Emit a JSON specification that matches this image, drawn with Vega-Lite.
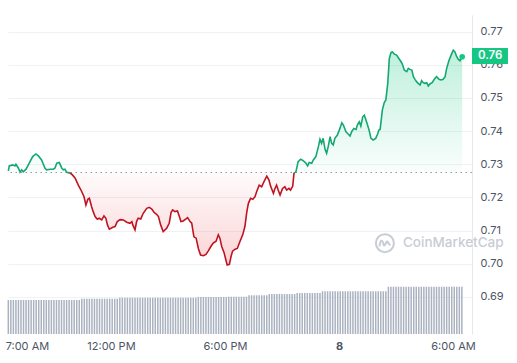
{
  "$schema": "https://vega.github.io/schema/vega-lite/v6.json",
  "width": 464,
  "height": 319,
  "autosize": {"type": "none"},
  "padding": {"left": 8, "top": 15, "right": 45, "bottom": 29},
  "background": "white",
  "config": {
    "view": {"stroke": null},
    "font": "Inter",
    "axis": {"labelFont": "Inter", "labelFontSize": 11, "labelColor": "#4d5565"}
  },
  "datasets": {
    "price": [
      {"t":"2024-03-07T06:36","p":0.7280},{"t":"2024-03-07T06:39","p":0.7295},{"t":"2024-03-07T06:50","p":0.7298},{"t":"2024-03-07T06:57","p":0.7295},
      {"t":"2024-03-07T07:00","p":0.7300},{"t":"2024-03-07T07:08","p":0.7288},{"t":"2024-03-07T07:13","p":0.7276},{"t":"2024-03-07T07:18","p":0.7283},
      {"t":"2024-03-07T07:23","p":0.7277},{"t":"2024-03-07T07:32","p":0.7285},{"t":"2024-03-07T07:42","p":0.7303},{"t":"2024-03-07T07:53","p":0.7323},
      {"t":"2024-03-07T08:03","p":0.7331},{"t":"2024-03-07T08:11","p":0.7325},{"t":"2024-03-07T08:21","p":0.7313},{"t":"2024-03-07T08:32","p":0.7288},
      {"t":"2024-03-07T08:37","p":0.7283},{"t":"2024-03-07T08:48","p":0.7285},{"t":"2024-03-07T08:58","p":0.7285},{"t":"2024-03-07T09:03","p":0.7288},
      {"t":"2024-03-07T09:09","p":0.7303},{"t":"2024-03-07T09:17","p":0.7305},{"t":"2024-03-07T09:25","p":0.7288},{"t":"2024-03-07T09:30","p":0.7283},
      {"t":"2024-03-07T09:35","p":0.7285},{"t":"2024-03-07T09:40","p":0.7276},{"t":"2024-03-07T09:51","p":0.7274},{"t":"2024-03-07T09:59","p":0.7267},
      {"t":"2024-03-07T10:07","p":0.7258},{"t":"2024-03-07T10:17","p":0.7237},{"t":"2024-03-07T10:28","p":0.7217},{"t":"2024-03-07T10:35","p":0.7202},
      {"t":"2024-03-07T10:41","p":0.7177},{"t":"2024-03-07T10:47","p":0.7194},{"t":"2024-03-07T10:52","p":0.7197},{"t":"2024-03-07T10:59","p":0.7172},
      {"t":"2024-03-07T11:04","p":0.7157},{"t":"2024-03-07T11:10","p":0.7142},{"t":"2024-03-07T11:17","p":0.7134},{"t":"2024-03-07T11:23","p":0.7137},
      {"t":"2024-03-07T11:31","p":0.7132},{"t":"2024-03-07T11:38","p":0.7144},{"t":"2024-03-07T11:44","p":0.7137},{"t":"2024-03-07T11:49","p":0.7117},
      {"t":"2024-03-07T11:55","p":0.7104},{"t":"2024-03-07T12:06","p":0.7110},{"t":"2024-03-07T12:13","p":0.7112},{"t":"2024-03-07T12:20","p":0.7127},
      {"t":"2024-03-07T12:29","p":0.7133},{"t":"2024-03-07T12:39","p":0.7132},{"t":"2024-03-07T12:50","p":0.7125},{"t":"2024-03-07T13:00","p":0.7122},
      {"t":"2024-03-07T13:06","p":0.7127},{"t":"2024-03-07T13:09","p":0.7117},{"t":"2024-03-07T13:16","p":0.7102},{"t":"2024-03-07T13:21","p":0.7127},
      {"t":"2024-03-07T13:26","p":0.7137},{"t":"2024-03-07T13:34","p":0.7135},{"t":"2024-03-07T13:42","p":0.7152},{"t":"2024-03-07T13:53","p":0.7167},
      {"t":"2024-03-07T14:01","p":0.7170},{"t":"2024-03-07T14:09","p":0.7165},{"t":"2024-03-07T14:16","p":0.7155},{"t":"2024-03-07T14:24","p":0.7149},
      {"t":"2024-03-07T14:30","p":0.7142},{"t":"2024-03-07T14:37","p":0.7117},{"t":"2024-03-07T14:45","p":0.7097},{"t":"2024-03-07T14:56","p":0.7107},
      {"t":"2024-03-07T15:04","p":0.7122},{"t":"2024-03-07T15:10","p":0.7155},{"t":"2024-03-07T15:15","p":0.7162},{"t":"2024-03-07T15:22","p":0.7157},
      {"t":"2024-03-07T15:30","p":0.7159},{"t":"2024-03-07T15:36","p":0.7142},{"t":"2024-03-07T15:41","p":0.7127},{"t":"2024-03-07T15:48","p":0.7129},
      {"t":"2024-03-07T15:57","p":0.7135},{"t":"2024-03-07T16:02","p":0.7139},{"t":"2024-03-07T16:10","p":0.7127},{"t":"2024-03-07T16:15","p":0.7122},
      {"t":"2024-03-07T16:22","p":0.7081},{"t":"2024-03-07T16:29","p":0.7077},{"t":"2024-03-07T16:36","p":0.7046},{"t":"2024-03-07T16:43","p":0.7026},
      {"t":"2024-03-07T16:52","p":0.7024},{"t":"2024-03-07T17:00","p":0.7028},{"t":"2024-03-07T17:07","p":0.7038},{"t":"2024-03-07T17:15","p":0.7051},
      {"t":"2024-03-07T17:23","p":0.7062},{"t":"2024-03-07T17:32","p":0.7068},{"t":"2024-03-07T17:39","p":0.7087},{"t":"2024-03-07T17:44","p":0.7077},
      {"t":"2024-03-07T17:50","p":0.7051},{"t":"2024-03-07T17:57","p":0.7034},{"t":"2024-03-07T18:03","p":0.7011},{"t":"2024-03-07T18:07","p":0.6996},
      {"t":"2024-03-07T18:14","p":0.6998},{"t":"2024-03-07T18:19","p":0.7021},{"t":"2024-03-07T18:24","p":0.7038},{"t":"2024-03-07T18:32","p":0.7044},
      {"t":"2024-03-07T18:39","p":0.7046},{"t":"2024-03-07T18:47","p":0.7066},{"t":"2024-03-07T18:56","p":0.7087},{"t":"2024-03-07T19:03","p":0.7112},
      {"t":"2024-03-07T19:09","p":0.7156},{"t":"2024-03-07T19:14","p":0.7182},{"t":"2024-03-07T19:21","p":0.7197},{"t":"2024-03-07T19:28","p":0.7194},
      {"t":"2024-03-07T19:35","p":0.7202},{"t":"2024-03-07T19:40","p":0.7217},{"t":"2024-03-07T19:48","p":0.7237},{"t":"2024-03-07T19:56","p":0.7232},
      {"t":"2024-03-07T20:03","p":0.7247},{"t":"2024-03-07T20:12","p":0.7264},{"t":"2024-03-07T20:19","p":0.7252},{"t":"2024-03-07T20:24","p":0.7234},
      {"t":"2024-03-07T20:33","p":0.7212},{"t":"2024-03-07T20:38","p":0.7227},{"t":"2024-03-07T20:43","p":0.7237},{"t":"2024-03-07T20:48","p":0.7222},
      {"t":"2024-03-07T20:54","p":0.7207},{"t":"2024-03-07T21:02","p":0.7227},{"t":"2024-03-07T21:09","p":0.7232},{"t":"2024-03-07T21:15","p":0.7222},
      {"t":"2024-03-07T21:22","p":0.7227},{"t":"2024-03-07T21:27","p":0.7222},{"t":"2024-03-07T21:34","p":0.7234},{"t":"2024-03-07T21:38","p":0.7273},
      {"t":"2024-03-07T21:44","p":0.7277},{"t":"2024-03-07T21:51","p":0.7308},{"t":"2024-03-07T21:59","p":0.7315},{"t":"2024-03-07T22:07","p":0.7311},
      {"t":"2024-03-07T22:16","p":0.7303},{"t":"2024-03-07T22:21","p":0.7295},{"t":"2024-03-07T22:26","p":0.7305},{"t":"2024-03-07T22:34","p":0.7303},
      {"t":"2024-03-07T22:39","p":0.7313},{"t":"2024-03-07T22:47","p":0.7323},{"t":"2024-03-07T22:55","p":0.7353},{"t":"2024-03-07T23:00","p":0.7375},
      {"t":"2024-03-07T23:05","p":0.7363},{"t":"2024-03-07T23:10","p":0.7378},{"t":"2024-03-07T23:16","p":0.7345},{"t":"2024-03-07T23:21","p":0.7333},
      {"t":"2024-03-07T23:26","p":0.7353},{"t":"2024-03-07T23:32","p":0.7383},{"t":"2024-03-07T23:37","p":0.7363},{"t":"2024-03-07T23:42","p":0.7358},
      {"t":"2024-03-07T23:47","p":0.7378},{"t":"2024-03-07T23:55","p":0.7388},{"t":"2024-03-08T00:03","p":0.7408},{"t":"2024-03-08T00:09","p":0.7425},
      {"t":"2024-03-08T00:14","p":0.7418},{"t":"2024-03-08T00:22","p":0.7398},{"t":"2024-03-08T00:29","p":0.7391},{"t":"2024-03-08T00:35","p":0.7385},
      {"t":"2024-03-08T00:40","p":0.7398},{"t":"2024-03-08T00:47","p":0.7408},{"t":"2024-03-08T00:54","p":0.7405},{"t":"2024-03-08T00:58","p":0.7418},
      {"t":"2024-03-08T01:04","p":0.7428},{"t":"2024-03-08T01:09","p":0.7415},{"t":"2024-03-08T01:15","p":0.7443},{"t":"2024-03-08T01:20","p":0.7448},
      {"t":"2024-03-08T01:27","p":0.7428},{"t":"2024-03-08T01:35","p":0.7403},{"t":"2024-03-08T01:41","p":0.7378},{"t":"2024-03-08T01:48","p":0.7373},
      {"t":"2024-03-08T01:56","p":0.7378},{"t":"2024-03-08T02:02","p":0.7391},{"t":"2024-03-08T02:06","p":0.7403},{"t":"2024-03-08T02:10","p":0.7405},
      {"t":"2024-03-08T02:17","p":0.7464},{"t":"2024-03-08T02:23","p":0.7486},{"t":"2024-03-08T02:28","p":0.7494},{"t":"2024-03-08T02:34","p":0.7544},
      {"t":"2024-03-08T02:39","p":0.7619},{"t":"2024-03-08T02:44","p":0.7636},{"t":"2024-03-08T02:48","p":0.7639},{"t":"2024-03-08T02:55","p":0.7632},
      {"t":"2024-03-08T03:02","p":0.7629},{"t":"2024-03-08T03:09","p":0.7619},{"t":"2024-03-08T03:16","p":0.7609},{"t":"2024-03-08T03:20","p":0.7602},
      {"t":"2024-03-08T03:26","p":0.7584},{"t":"2024-03-08T03:34","p":0.7579},{"t":"2024-03-08T03:39","p":0.7589},{"t":"2024-03-08T03:44","p":0.7586},
      {"t":"2024-03-08T03:50","p":0.7584},{"t":"2024-03-08T03:55","p":0.7564},{"t":"2024-03-08T04:00","p":0.7556},{"t":"2024-03-08T04:05","p":0.7549},
      {"t":"2024-03-08T04:10","p":0.7544},{"t":"2024-03-08T04:16","p":0.7539},{"t":"2024-03-08T04:21","p":0.7552},{"t":"2024-03-08T04:26","p":0.7546},
      {"t":"2024-03-08T04:31","p":0.7544},{"t":"2024-03-08T04:37","p":0.7546},{"t":"2024-03-08T04:42","p":0.7536},{"t":"2024-03-08T04:47","p":0.7542},
      {"t":"2024-03-08T04:54","p":0.7546},{"t":"2024-03-08T05:01","p":0.7556},{"t":"2024-03-08T05:08","p":0.7564},{"t":"2024-03-08T05:16","p":0.7556},
      {"t":"2024-03-08T05:22","p":0.7554},{"t":"2024-03-08T05:29","p":0.7556},{"t":"2024-03-08T05:35","p":0.7564},{"t":"2024-03-08T05:40","p":0.7589},
      {"t":"2024-03-08T05:47","p":0.7612},{"t":"2024-03-08T05:54","p":0.7629},{"t":"2024-03-08T06:01","p":0.7644},{"t":"2024-03-08T06:06","p":0.7639},
      {"t":"2024-03-08T06:11","p":0.7626},{"t":"2024-03-08T06:17","p":0.7616},{"t":"2024-03-08T06:22","p":0.7612},{"t":"2024-03-08T06:29","p":0.7624}
    ],
    "vol": [
      {"t":"2024-03-07T06:36","v":34},{"t":"2024-03-07T06:44","v":34},{"t":"2024-03-07T06:52","v":34},
      {"t":"2024-03-07T07:00","v":34},{"t":"2024-03-07T07:08","v":34},{"t":"2024-03-07T07:16","v":34},{"t":"2024-03-07T07:24","v":34},{"t":"2024-03-07T07:32","v":34},{"t":"2024-03-07T07:40","v":34},{"t":"2024-03-07T07:48","v":34},{"t":"2024-03-07T07:56","v":34},
      {"t":"2024-03-07T08:04","v":34},{"t":"2024-03-07T08:12","v":34},{"t":"2024-03-07T08:20","v":34},{"t":"2024-03-07T08:28","v":34},{"t":"2024-03-07T08:36","v":34},{"t":"2024-03-07T08:44","v":34},{"t":"2024-03-07T08:52","v":34},
      {"t":"2024-03-07T09:00","v":34},{"t":"2024-03-07T09:08","v":34},{"t":"2024-03-07T09:16","v":34},{"t":"2024-03-07T09:24","v":34},{"t":"2024-03-07T09:32","v":34},{"t":"2024-03-07T09:40","v":34},{"t":"2024-03-07T09:48","v":34},{"t":"2024-03-07T09:56","v":34},
      {"t":"2024-03-07T10:04","v":34},{"t":"2024-03-07T10:12","v":34},{"t":"2024-03-07T10:20","v":34},{"t":"2024-03-07T10:28","v":35.3},{"t":"2024-03-07T10:36","v":35.3},{"t":"2024-03-07T10:44","v":35.3},{"t":"2024-03-07T10:52","v":35.3},
      {"t":"2024-03-07T11:00","v":35.3},{"t":"2024-03-07T11:08","v":35.3},{"t":"2024-03-07T11:16","v":35.3},{"t":"2024-03-07T11:24","v":35.3},{"t":"2024-03-07T11:32","v":35.3},{"t":"2024-03-07T11:40","v":35.3},{"t":"2024-03-07T11:48","v":35.3},{"t":"2024-03-07T11:56","v":35.3},
      {"t":"2024-03-07T12:04","v":35.3},{"t":"2024-03-07T12:12","v":35.3},{"t":"2024-03-07T12:20","v":35.3},{"t":"2024-03-07T12:28","v":36.3},{"t":"2024-03-07T12:36","v":36.3},{"t":"2024-03-07T12:44","v":36.3},{"t":"2024-03-07T12:52","v":36.3},
      {"t":"2024-03-07T13:00","v":36.3},{"t":"2024-03-07T13:08","v":36.3},{"t":"2024-03-07T13:16","v":36.3},{"t":"2024-03-07T13:24","v":36.3},{"t":"2024-03-07T13:32","v":36.3},{"t":"2024-03-07T13:40","v":36.3},{"t":"2024-03-07T13:48","v":36.3},{"t":"2024-03-07T13:56","v":36.3},
      {"t":"2024-03-07T14:04","v":36.3},{"t":"2024-03-07T14:12","v":36.3},{"t":"2024-03-07T14:20","v":36.3},{"t":"2024-03-07T14:28","v":36.3},{"t":"2024-03-07T14:36","v":36.3},{"t":"2024-03-07T14:44","v":36.3},{"t":"2024-03-07T14:52","v":36.3},
      {"t":"2024-03-07T15:00","v":36.3},{"t":"2024-03-07T15:08","v":36.3},{"t":"2024-03-07T15:16","v":36.3},{"t":"2024-03-07T15:24","v":36.3},{"t":"2024-03-07T15:32","v":36.3},{"t":"2024-03-07T15:40","v":36.3},{"t":"2024-03-07T15:48","v":36.3},{"t":"2024-03-07T15:56","v":36.3},
      {"t":"2024-03-07T16:04","v":36.3},{"t":"2024-03-07T16:12","v":36.3},{"t":"2024-03-07T16:20","v":36.3},{"t":"2024-03-07T16:28","v":36.3},{"t":"2024-03-07T16:36","v":37},{"t":"2024-03-07T16:44","v":37},{"t":"2024-03-07T16:52","v":37},
      {"t":"2024-03-07T17:00","v":37},{"t":"2024-03-07T17:08","v":37},{"t":"2024-03-07T17:16","v":37},{"t":"2024-03-07T17:24","v":37},{"t":"2024-03-07T17:32","v":37},{"t":"2024-03-07T17:40","v":37},{"t":"2024-03-07T17:48","v":37},{"t":"2024-03-07T17:56","v":37},
      {"t":"2024-03-07T18:04","v":37},{"t":"2024-03-07T18:12","v":37.3},{"t":"2024-03-07T18:20","v":37.3},{"t":"2024-03-07T18:28","v":37.3},{"t":"2024-03-07T18:36","v":37.3},{"t":"2024-03-07T18:44","v":37.3},{"t":"2024-03-07T18:52","v":37.3},
      {"t":"2024-03-07T19:00","v":37.3},{"t":"2024-03-07T19:08","v":37.3},{"t":"2024-03-07T19:16","v":38.7},{"t":"2024-03-07T19:24","v":38.7},{"t":"2024-03-07T19:32","v":38.7},{"t":"2024-03-07T19:40","v":38.7},{"t":"2024-03-07T19:48","v":38.7},{"t":"2024-03-07T19:56","v":38.7},
      {"t":"2024-03-07T20:04","v":38.7},{"t":"2024-03-07T20:12","v":38.7},{"t":"2024-03-07T20:20","v":40},{"t":"2024-03-07T20:28","v":40},{"t":"2024-03-07T20:36","v":40},{"t":"2024-03-07T20:44","v":40},{"t":"2024-03-07T20:52","v":40},
      {"t":"2024-03-07T21:00","v":40},{"t":"2024-03-07T21:08","v":40},{"t":"2024-03-07T21:16","v":40},{"t":"2024-03-07T21:24","v":40},{"t":"2024-03-07T21:32","v":40},{"t":"2024-03-07T21:40","v":40},{"t":"2024-03-07T21:48","v":41},{"t":"2024-03-07T21:56","v":41},
      {"t":"2024-03-07T22:04","v":41},{"t":"2024-03-07T22:12","v":41},{"t":"2024-03-07T22:20","v":41},{"t":"2024-03-07T22:28","v":41},{"t":"2024-03-07T22:36","v":41},{"t":"2024-03-07T22:44","v":41},{"t":"2024-03-07T22:52","v":41},
      {"t":"2024-03-07T23:00","v":41},{"t":"2024-03-07T23:08","v":42.7},{"t":"2024-03-07T23:16","v":42.7},{"t":"2024-03-07T23:24","v":42.7},{"t":"2024-03-07T23:32","v":42.7},{"t":"2024-03-07T23:40","v":42.7},{"t":"2024-03-07T23:48","v":42.7},{"t":"2024-03-07T23:56","v":42.7},
      {"t":"2024-03-08T00:04","v":42.7},{"t":"2024-03-08T00:12","v":42.7},{"t":"2024-03-08T00:20","v":42.7},{"t":"2024-03-08T00:28","v":42.7},{"t":"2024-03-08T00:36","v":42.7},{"t":"2024-03-08T00:44","v":42.7},{"t":"2024-03-08T00:52","v":42.7},
      {"t":"2024-03-08T01:00","v":42.7},{"t":"2024-03-08T01:08","v":42.7},{"t":"2024-03-08T01:16","v":42.7},{"t":"2024-03-08T01:24","v":42.7},{"t":"2024-03-08T01:32","v":42.7},{"t":"2024-03-08T01:40","v":42.7},{"t":"2024-03-08T01:48","v":42.7},{"t":"2024-03-08T01:56","v":42.7},
      {"t":"2024-03-08T02:04","v":42.7},{"t":"2024-03-08T02:12","v":42.7},{"t":"2024-03-08T02:20","v":42.7},{"t":"2024-03-08T02:28","v":42.7},{"t":"2024-03-08T02:36","v":47.3},{"t":"2024-03-08T02:44","v":47.3},{"t":"2024-03-08T02:52","v":47.3},
      {"t":"2024-03-08T03:00","v":47.3},{"t":"2024-03-08T03:08","v":47.3},{"t":"2024-03-08T03:16","v":47.3},{"t":"2024-03-08T03:24","v":47.3},{"t":"2024-03-08T03:32","v":47.3},{"t":"2024-03-08T03:40","v":47.3},{"t":"2024-03-08T03:48","v":47.3},{"t":"2024-03-08T03:56","v":47.3},
      {"t":"2024-03-08T04:04","v":47.3},{"t":"2024-03-08T04:12","v":47.3},{"t":"2024-03-08T04:20","v":47.3},{"t":"2024-03-08T04:28","v":47.3},{"t":"2024-03-08T04:36","v":47.3},{"t":"2024-03-08T04:44","v":47.3},{"t":"2024-03-08T04:52","v":47.3},
      {"t":"2024-03-08T05:00","v":47.3},{"t":"2024-03-08T05:08","v":47.3},{"t":"2024-03-08T05:16","v":47.3},{"t":"2024-03-08T05:24","v":47.3},{"t":"2024-03-08T05:32","v":47.3},{"t":"2024-03-08T05:40","v":47.3},{"t":"2024-03-08T05:48","v":47.3},{"t":"2024-03-08T05:56","v":47.3},
      {"t":"2024-03-08T06:04","v":47.3},{"t":"2024-03-08T06:12","v":47.3},{"t":"2024-03-08T06:20","v":47.3},{"t":"2024-03-08T06:28","v":47.3}
    ],
    "last": [{"t":"2024-03-08T06:29","p":0.7624,"label":"0.76"}],
    "wm": [{"t":"2024-03-08T03:22","p":0.7062,"name":"CoinMarketCap"}],
    "logo": [{"t":"2024-03-08T02:25","p":0.7062}]
  },
  "resolve": {"scale": {"y": "independent"}},
  "layer": [
    {
      "data": {"name": "vol"},
      "mark": {"type": "bar", "size": 1.5, "color": "#aab2c0"},
      "encoding": {
        "x": {
          "field": "t", "type": "temporal",
          "scale": {"domain": [{"year":2024,"month":3,"date":7,"hours":6,"minutes":35},{"year":2024,"month":3,"date":8,"hours":7,"minutes":0}], "padding": 0},
          "axis": {
            "title": null,
            "values": [
              {"year":2024,"month":3,"date":7,"hours":7},
              {"year":2024,"month":3,"date":7,"hours":12},
              {"year":2024,"month":3,"date":7,"hours":18},
              {"year":2024,"month":3,"date":8,"hours":0},
              {"year":2024,"month":3,"date":8,"hours":6}
            ],
            "labelExpr": "hours(datum.value) == 0 ? timeFormat(datum.value, '%-d') : timeFormat(datum.value, '%-I:%M %p')",
            "domain": false, "ticks": false, "grid": false,
            "labelPadding": 6, "labelFlush": false, "labelOverlap": false,
            "labelOffset": {"condition": {"test": "hours(datum.value) == 7", "value": 11}, "value": 0},
            "labelFontWeight": {"condition": {"test": "hours(datum.value) == 0", "value": "bold"}, "value": "normal"}
          }
        },
        "y": {"field": "v", "type": "quantitative", "scale": {"domain": [0, 319]}, "axis": null}
      }
    },
    {
      "layer": [
        {
          "data": {"name": "price"},
          "mark": {
            "type": "area", "interpolate": "linear",
            "fill": {"gradient": "linear", "x1": 0, "y1": 0, "x2": 0, "y2": 1,
              "stops": [
                {"offset": 0, "color": "rgba(22,199,132,0.28)"},
                {"offset": 0.5694, "color": "rgba(22,199,132,0.02)"},
                {"offset": 0.5694, "color": "rgba(234,57,67,0.02)"},
                {"offset": 1, "color": "rgba(234,57,67,0.22)"}
              ]}
          },
          "encoding": {
            "x": {"field": "t", "type": "temporal"},
            "y": {
              "field": "p", "type": "quantitative",
              "scale": {"domain": [0.6788, 0.775], "nice": false, "zero": false},
              "axis": {
                "orient": "right", "title": null,
                "values": [0.69, 0.70, 0.71, 0.72, 0.73, 0.74, 0.75, 0.76, 0.77],
                "tickCount": 20,
                "format": ".2f", "ticks": false, "labelPadding": 8, "labelOverlap": false, "labelFlush": false,
                "grid": true, "gridColor": "#eff1f4", "gridWidth": 1,
                "domain": true, "domainColor": "#e4e7eb", "domainWidth": 1
              }
            },
            "y2": {"datum": 0.7275}
          }
        },
        {
          "data": {"values": [{}]},
          "mark": {"type": "rule", "strokeDash": [1.5, 3.5], "color": "#8f98a3", "strokeWidth": 1},
          "encoding": {"y": {"datum": 0.7275, "type": "quantitative"}}
        },
        {
          "data": {"name": "price"},
          "mark": {
            "type": "line", "interpolate": "linear", "strokeWidth": 1.6,
            "stroke": {"gradient": "linear", "x1": 0, "y1": 0, "x2": 0, "y2": 1,
              "stops": [
                {"offset": 0, "color": "#13a872"},
                {"offset": 0.5694, "color": "#13a872"},
                {"offset": 0.5694, "color": "#c01320"},
                {"offset": 1, "color": "#c01320"}
              ]}
          },
          "encoding": {
            "x": {"field": "t", "type": "temporal"},
            "y": {"field": "p", "type": "quantitative"}
          }
        },
        {
          "data": {"name": "last"},
          "mark": {"type": "point", "shape": "circle", "filled": true, "size": 32, "color": "#16c784", "opacity": 1},
          "encoding": {
            "x": {"field": "t", "type": "temporal"},
            "y": {"field": "p", "type": "quantitative"}
          }
        },
        {
          "data": {"name": "last"},
          "mark": {"type": "point", "shape": "M1.225,-1.1 L5.725,-1.1 L5.725,0.9 L1.225,0.9 Z", "filled": true, "size": 256, "color": "#16c784", "opacity": 1},
          "encoding": {
            "x": {"field": "t", "type": "temporal"},
            "y": {"field": "p", "type": "quantitative"}
          }
        },
        {
          "data": {"name": "last"},
          "mark": {"type": "text", "dx": 28, "dy": -1, "align": "center", "baseline": "middle", "font": "Inter", "fontSize": 11.5, "fontWeight": 600, "color": "white"},
          "encoding": {
            "x": {"field": "t", "type": "temporal"},
            "y": {"field": "p", "type": "quantitative"},
            "text": {"field": "label"}
          }
        },
        {
          "data": {"name": "logo"},
          "mark": {"type": "point", "shape": "circle", "filled": false, "size": 324, "stroke": "#c8cdd5", "strokeWidth": 2, "opacity": 1},
          "encoding": {
            "x": {"field": "t", "type": "temporal"},
            "y": {"field": "p", "type": "quantitative"}
          }
        },
        {
          "data": {"name": "logo"},
          "mark": {"type": "point", "shape": "M-0.6,0.35 C-0.5,-0.45 -0.3,-0.45 -0.15,0.15 C0,0.6 0.2,-0.55 0.35,-0.05 L0.6,0.25", "filled": false, "size": 324, "stroke": "#c8cdd5", "strokeWidth": 2, "opacity": 1},
          "encoding": {
            "x": {"field": "t", "type": "temporal"},
            "y": {"field": "p", "type": "quantitative"}
          }
        },
        {
          "data": {"name": "wm"},
          "mark": {"type": "text", "align": "left", "baseline": "middle", "font": "Inter", "fontSize": 13.5, "fontWeight": 500, "color": "#c8cdd5"},
          "encoding": {
            "x": {"field": "t", "type": "temporal"},
            "y": {"field": "p", "type": "quantitative"},
            "text": {"field": "name"}
          }
        }
      ]
    }
  ]
}
